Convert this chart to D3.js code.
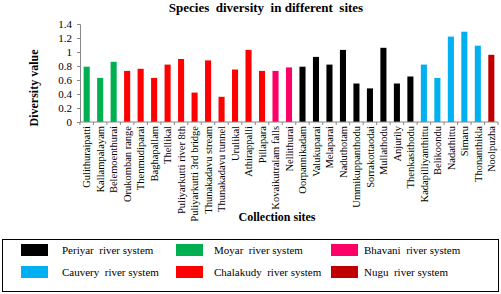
<!DOCTYPE html>
<html>
<head>
<meta charset="utf-8">
<script src="https://cdn.jsdelivr.net/npm/d3@7"></script>
<style>
  body { margin: 0; background: #fff; }
  svg { font-family: "Liberation Serif", "Times New Roman", serif; }
</style>
</head>
<body>
<svg id="chart" width="501" height="294"></svg>
<script>
// site names in plot order
const sites = [
    "Gulithuraipatti", "Kallampalayam", "Belemoenthurai", "Orukomban range", "Thenmudiparai",
    "Baghapallam", "Thellikal", "Puliyarkutti river 8th", "Puliyarkutti 3rd bridge", "Thunakadavu stream",
    "Thunakadavu tunnel", "Urulikal", "Athirappalli", "Pillapara", "Kovaikutralam falls",
    "Nellithurai", "Oorpannikadam", "Valukuparai", "Melaparai", "Naduthotam",
    "Ummikuppanthodu", "Sorrakottaodai", "Mullathodu", "Anjurily", "Thenkasithodu",
    "Kadapilliyanthittu", "Belikoondu", "Nadathittu", "Simaru", "Thonanthikla", "Noolpuzha"
];
const diversity = [
    0.79, 0.63, 0.86, 0.73, 0.76, 0.63, 0.82, 0.90, 0.42, 0.88,
    0.36, 0.75, 1.03, 0.73, 0.73, 0.78, 0.79, 0.93, 0.82, 1.03,
    0.55, 0.48, 1.06, 0.55, 0.65, 0.82, 0.63, 1.22, 1.29, 1.09, 0.96
];
const systemOf = [
    "Moyar", "Moyar", "Moyar", "Chalakudy", "Chalakudy", "Chalakudy", "Chalakudy", "Chalakudy",
    "Chalakudy", "Chalakudy", "Chalakudy", "Chalakudy", "Chalakudy", "Chalakudy", "Bhavani", "Bhavani",
    "Periyar", "Periyar", "Periyar", "Periyar", "Periyar", "Periyar", "Periyar", "Periyar", "Periyar",
    "Cauvery", "Cauvery", "Cauvery", "Cauvery", "Cauvery", "Nugu"
];
const yTicks = [0, 0.2, 0.4, 0.6, 0.8, 1, 1.2, 1.4];

// legend order (two rows of three)
const systems = ["Periyar", "Moyar", "Bhavani", "Cauvery", "Chalakudy", "Nugu"];
const systemColors = ["#000000", "#00b050", "#ff0066", "#00b0f0", "#ff0000", "#c00000"];

const data = sites.map((s, i) => ({ site: s, value: diversity[i], system: systemOf[i] }));

const svg = d3.select("#chart");
const margin = { top: 24, left: 80, right: 3, bottom: 172 };
const width = 501 - margin.left - margin.right;
const height = 294 - margin.top - margin.bottom;

const g = svg.append("g")
    .attr("transform", `translate(${margin.left},${margin.top})`);

const x = d3.scaleBand()
    .domain(sites)
    .range([0, width])
    .paddingInner(0.55)
    .paddingOuter(0.27);

const y = d3.scaleLinear()
    .domain([0, 1.4])
    .range([height, 0]);

const color = d3.scaleOrdinal().domain(systems).range(systemColors);

// y axis
const yAxis = d3.axisLeft(y)
    .tickValues(yTicks)
    .tickFormat(d => d)
    .tickSize(3)
    .tickPadding(5);
const yg = g.append("g").call(yAxis);
yg.select(".domain").attr("stroke", "#888");
yg.selectAll(".tick line").attr("stroke", "#888");
yg.selectAll("text")
    .style("font-size", "11px")
    .style("font-family", "Liberation Serif, serif")
    .attr("fill", "#000");

// bars
g.selectAll(".bar")
    .data(data)
    .join("rect")
    .attr("class", "bar")
    .attr("x", d => x(d.site))
    .attr("y", d => y(d.value))
    .attr("width", x.bandwidth())
    .attr("height", d => height - y(d.value))
    .attr("fill", d => color(d.system));

// x axis line and boundary ticks
g.append("line")
    .attr("x1", 0).attr("x2", width)
    .attr("y1", height).attr("y2", height)
    .attr("stroke", "#888");

const step = x.step();
const boundaries = d3.range(sites.length + 1).map(i => i * step + (width - step * sites.length) / 2);
g.selectAll(".xtick")
    .data(boundaries)
    .join("line")
    .attr("class", "xtick")
    .attr("x1", d => d).attr("x2", d => d)
    .attr("y1", height).attr("y2", height + 3)
    .attr("stroke", "#888");

// rotated site labels
g.selectAll(".xlabel")
    .data(data)
    .join("text")
    .attr("class", "xlabel")
    .attr("transform", d => `translate(${x(d.site) + x.bandwidth() / 2},${height + 4}) rotate(-90)`)
    .attr("text-anchor", "end")
    .attr("dy", "0.35em")
    .style("font-size", "10.5px")
    .text(d => d.site);

// title
svg.append("text")
    .attr("x", 266)
    .attr("y", 12)
    .attr("text-anchor", "middle")
    .style("font-size", "13px")
    .style("font-weight", "bold")
    .style("white-space", "pre")
    .text("Species  diversity  in different  sites");

// axis titles
svg.append("text")
    .attr("transform", "translate(38,88) rotate(-90)")
    .attr("text-anchor", "middle")
    .style("font-size", "12px")
    .style("font-weight", "bold")
    .text("Diversity value");

svg.append("text")
    .attr("x", 277)
    .attr("y", 221)
    .attr("text-anchor", "middle")
    .style("font-size", "12px")
    .style("font-weight", "bold")
    .text("Collection sites");

// legend box
const legend = svg.append("g");
legend.append("rect")
    .attr("x", 2.5).attr("y", 239.5)
    .attr("width", 496).attr("height", 52)
    .attr("fill", "none")
    .attr("stroke", "#000")
    .attr("stroke-width", 1);

const colX = [21, 176, 331];
const textX = [62, 214, 364];
const rowY = [244, 266];
const items = legend.selectAll(".item")
    .data(systems)
    .join("g")
    .attr("class", "item")
    .attr("transform", (d, i) => `translate(0,${rowY[Math.floor(i / 3)]})`);

items.append("rect")
    .attr("x", (d, i) => colX[i % 3])
    .attr("y", 0)
    .attr("width", 27)
    .attr("height", 12)
    .attr("fill", d => color(d));

items.append("text")
    .attr("x", (d, i) => textX[i % 3])
    .attr("y", 10)
    .style("font-size", "11px")
    .style("white-space", "pre")
    .text(d => d + "  river system");
</script>
</body>
</html>
